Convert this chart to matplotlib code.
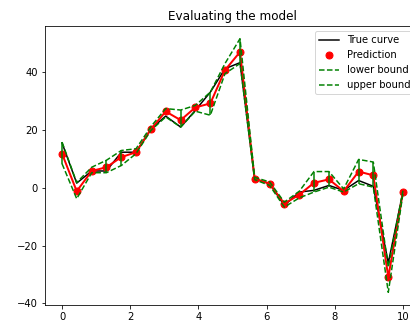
import matplotlib
matplotlib.use('Agg')
import matplotlib.pyplot as plt

# x grid (24 evenly spaced points between 0 and 10)
x = [0.0, 0.43, 0.87, 1.30, 1.74, 2.17, 2.61, 3.04, 3.48, 3.91, 4.35, 4.78,
     5.22, 5.65, 6.09, 6.52, 6.96, 7.39, 7.83, 8.26, 8.70, 9.13, 9.57, 10.0]

true_curve = [15.5, 1.6, 5.8, 5.8, 12.3, 12.3, 20.4, 24.8, 21.0, 26.8, 33.1, 41.2,
              43.3, 3.1, 1.4, -6.1, -1.5, -0.9, 0.8, -0.9, 2.5, 0.5, -26.0, -1.5]
prediction = [11.8, -1.2, 5.8, 7.1, 10.6, 12.3, 20.3, 26.4, 23.4, 27.8, 29.2, 40.7,
              47.0, 3.1, 1.4, -5.5, -2.4, 1.7, 2.9, -1.2, 5.6, 4.3, -31.0, -1.5]
lower_bound = [8.3, -3.8, 5.2, 5.2, 7.7, 11.8, 19.9, 24.5, 21.0, 26.5, 25.1, 39.5,
               43.0, 2.8, 0.8, -6.7, -3.5, -1.5, 0.2, -1.5, 1.4, 0.2, -36.2, -2.0]
upper_bound = [15.8, 1.8, 7.1, 9.5, 12.9, 13.5, 21.2, 27.4, 26.9, 28.5, 33.1, 43.0,
               51.6, 3.6, 2.0, -5.0, -1.2, 5.6, 5.6, -0.4, 9.8, 8.9, -27.5, -1.0]

# points where the interval shows as a solid vertical stroke
interval_idx = [0, 3, 4, 8, 10, 12, 17, 18, 20, 21]

fig = plt.figure(figsize=(410 / 72, 333 / 72), dpi=72)
ax = fig.add_axes([45 / 410, 28 / 333, 375 / 410, 279 / 333])

ax.plot(x, true_curve, 'k-', label='True curve')
ax.plot(x, prediction, 'ro', ms=7, label='Prediction')
ax.plot(x, prediction, 'r-', lw=2)
ax.plot(x, lower_bound, 'g--', label='lower bound')
ax.plot(x, upper_bound, 'g--', label='upper bound')
ax.vlines([x[i] for i in interval_idx],
          [lower_bound[i] for i in interval_idx],
          [upper_bound[i] for i in interval_idx],
          colors='g', lw=1.5)

ax.set_title('Evaluating the model')
ax.legend(loc='upper right')

fig.savefig('out.png', dpi=72)
